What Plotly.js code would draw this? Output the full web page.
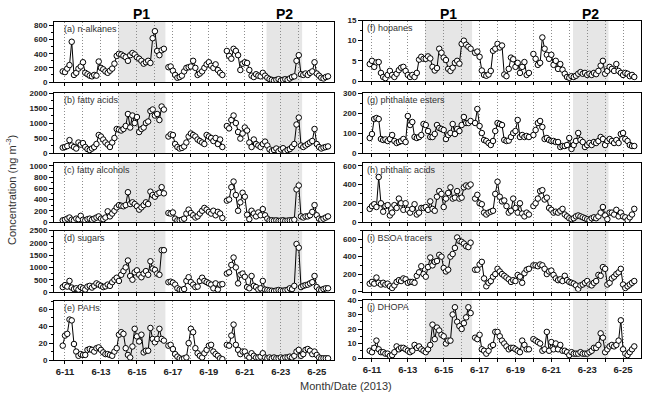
<!DOCTYPE html>
<html><head><meta charset="utf-8">
<script src="https://cdn.plot.ly/plotly-3.0.1.min.js"></script>
<style>html,body{margin:0;padding:0;background:#fff}#chart{width:650px;height:397px}</style>
</head><body><div id="chart"></div>
<script>
// sampling times (3-h samples; null entries mark the two sampling breaks)
const sampleTimes = [
'2013-06-10 21:00',
'2013-06-11 00:00','2013-06-11 03:00','2013-06-11 06:00','2013-06-11 09:00','2013-06-11 12:00','2013-06-11 15:00','2013-06-11 18:00','2013-06-11 21:00',
'2013-06-12 00:00','2013-06-12 03:00','2013-06-12 06:00','2013-06-12 09:00','2013-06-12 12:00','2013-06-12 15:00','2013-06-12 18:00','2013-06-12 21:00',
'2013-06-13 00:00','2013-06-13 03:00','2013-06-13 06:00','2013-06-13 09:00','2013-06-13 12:00','2013-06-13 15:00','2013-06-13 18:00','2013-06-13 21:00',
'2013-06-14 00:00','2013-06-14 03:00','2013-06-14 06:00','2013-06-14 09:00','2013-06-14 12:00','2013-06-14 15:00','2013-06-14 18:00','2013-06-14 21:00',
'2013-06-15 00:00','2013-06-15 03:00','2013-06-15 06:00','2013-06-15 09:00','2013-06-15 12:00','2013-06-15 15:00','2013-06-15 18:00','2013-06-15 21:00',
'2013-06-16 00:00','2013-06-16 03:00','2013-06-16 06:00','2013-06-16 09:00','2013-06-16 12:00',
'2013-06-16 15:00',
'2013-06-16 18:00','2013-06-16 21:00',
'2013-06-17 00:00','2013-06-17 03:00','2013-06-17 06:00','2013-06-17 09:00','2013-06-17 12:00','2013-06-17 15:00','2013-06-17 18:00','2013-06-17 21:00',
'2013-06-18 00:00','2013-06-18 03:00','2013-06-18 06:00','2013-06-18 09:00','2013-06-18 12:00','2013-06-18 15:00','2013-06-18 18:00','2013-06-18 21:00',
'2013-06-19 00:00','2013-06-19 03:00','2013-06-19 06:00','2013-06-19 09:00','2013-06-19 12:00','2013-06-19 15:00','2013-06-19 18:00',
'2013-06-19 21:00',
'2013-06-20 00:00','2013-06-20 03:00','2013-06-20 06:00','2013-06-20 09:00','2013-06-20 12:00','2013-06-20 15:00','2013-06-20 18:00','2013-06-20 21:00',
'2013-06-21 00:00','2013-06-21 03:00','2013-06-21 06:00','2013-06-21 09:00','2013-06-21 12:00','2013-06-21 15:00','2013-06-21 18:00','2013-06-21 21:00',
'2013-06-22 00:00','2013-06-22 03:00','2013-06-22 06:00','2013-06-22 09:00','2013-06-22 12:00','2013-06-22 15:00','2013-06-22 18:00','2013-06-22 21:00',
'2013-06-23 00:00','2013-06-23 03:00','2013-06-23 06:00','2013-06-23 09:00','2013-06-23 12:00','2013-06-23 15:00','2013-06-23 18:00','2013-06-23 21:00',
'2013-06-24 00:00','2013-06-24 03:00','2013-06-24 06:00','2013-06-24 09:00','2013-06-24 12:00','2013-06-24 15:00','2013-06-24 18:00','2013-06-24 21:00',
'2013-06-25 00:00','2013-06-25 03:00','2013-06-25 06:00','2013-06-25 09:00','2013-06-25 12:00','2013-06-25 15:00'
];

const nAlkanes = [150,140,190,240,570,100,130,190,220,280,130,110,90,80,100,90,290,200,180,150,130,160,190,260,370,400,390,370,350,300,380,410,390,350,330,300,260,280,300,270,620,720,440,380,450,470,
 null,
 210,220,160,100,60,70,90,150,200,210,220,300,200,100,120,150,200,250,280,230,200,250,170,130,100,
 null,
 440,370,330,470,440,380,170,260,280,270,170,90,70,110,90,80,130,90,60,40,30,20,30,40,20,30,40,30,50,70,80,300,380,110,100,120,100,130,150,280,120,90,60,50,70,80];

const fattyAcids = [180,200,230,430,250,200,150,350,280,330,200,130,100,150,200,300,600,550,450,350,280,200,350,500,800,780,750,800,900,1300,850,1250,1000,1200,700,800,850,1000,1050,1400,1450,1250,1300,1100,1550,1450,
 null,
 550,620,600,300,200,150,170,220,350,550,650,600,550,450,400,350,300,600,550,500,400,500,300,450,200,
 null,
 900,820,1100,1250,1000,700,480,650,850,750,350,200,450,300,250,200,300,380,250,120,60,100,150,60,120,160,50,100,130,200,300,950,1180,250,200,250,300,350,400,800,300,200,150,180,200,220];

const fattyAlcohols = [30,40,60,80,40,30,60,50,110,40,30,50,60,40,60,80,100,60,50,80,190,100,150,200,260,300,290,280,300,530,320,350,320,280,220,260,300,350,320,540,480,450,500,520,620,510,
 null,
 160,150,170,60,30,30,40,60,150,220,160,120,80,100,150,200,250,220,180,150,200,120,180,150,70,
 null,
 380,400,620,720,480,200,350,520,450,130,50,200,150,100,170,120,230,120,60,30,30,25,30,20,25,30,20,25,30,30,40,580,650,100,80,100,100,120,180,300,120,60,40,60,80,100];

const sugars = [200,280,220,450,180,120,150,100,200,150,100,220,250,180,250,350,300,250,200,230,300,250,400,500,580,450,700,850,1000,1280,650,500,800,880,700,600,750,850,700,1250,950,900,750,700,1700,1700,
 null,
 400,420,380,300,150,100,80,120,450,600,400,300,200,220,450,580,450,400,350,300,150,350,100,300,320,
 null,
 750,800,1100,1400,1000,350,700,750,620,200,150,650,250,200,100,150,450,100,80,60,50,40,60,80,60,50,70,90,150,120,250,1950,1800,200,250,280,300,350,400,650,200,100,80,120,150,150];

const pahs = [17,29,31,48,47,19,10,5,7,6,6,12,13,12,10,14,15,12,9,7,7,6,5,10,14,30,33,31,14,6,3,16,37,28,22,30,9,11,11,38,25,21,25,37,25,23,
 null,
 17,18,13,7,4,2,1,2,3,20,37,33,14,8,5,3,8,12,17,18,10,7,5,2,1,
 null,
 18,17,29,42,18,12,7,10,10,5,3,8,5,3,3,4,8,3,2,3,2,3,2,2,3,2,3,3,4,3,5,10,12,5,7,12,13,11,7,10,6,3,2,2,2,2];

const hopanes = [4.2,5,3.5,4.6,4.7,2,1,0.7,1.5,2.5,1.5,1,1.8,2.7,3.3,3.5,2.5,1.5,1,1.5,1,2,5.3,6,5.5,5.5,6.1,5.6,3.5,2.6,3.2,8,7,5.8,5.2,3,2.5,3.3,4.5,5,4.3,9.2,10,9,8.5,8,
 null,
 7,7.3,6,2.6,1.5,1.3,1.6,2.5,7.5,8,9.2,8.3,8.8,1.6,1.2,3,5.8,5.4,3.5,4.5,2,3.5,4.7,1.5,2,
 null,
 6.7,5.5,4,4.5,10.8,8,6.5,5.5,6.5,4,5,3,4.2,2.8,1.8,1,0.8,1.2,1,1.3,1.8,2.2,1.8,2,1.5,1.8,1.5,2,1.7,2.5,3.8,5,1.8,2.5,3.5,3,2.5,4.2,2.5,2,1.5,2,1.8,1.2,1.5,1];

const phthalateEsters = [75,95,170,175,170,70,65,68,60,70,90,60,50,55,60,70,55,185,140,155,80,75,80,90,145,140,110,80,80,95,140,125,120,115,70,90,100,145,95,120,110,140,180,150,150,160,
 null,
 150,220,135,100,65,60,50,40,60,110,150,145,140,65,60,62,80,100,110,165,80,90,80,85,80,
 null,
 90,115,150,160,130,70,75,65,60,60,55,55,30,35,35,40,75,20,40,60,100,65,55,30,40,50,40,55,50,60,80,70,40,60,70,60,50,65,50,95,100,70,60,40,35,35];

const phthalicAcids = [140,170,190,160,480,200,110,170,180,70,100,180,150,250,200,130,200,130,100,140,190,80,100,150,150,160,130,220,140,120,270,330,300,160,250,310,370,250,260,330,250,260,370,390,380,400,
 null,
 250,290,200,190,100,80,100,110,120,300,430,270,220,230,170,100,120,250,150,100,200,90,60,100,80,
 null,
 170,200,250,330,340,240,260,150,130,100,110,100,120,140,80,60,40,30,40,60,70,60,50,40,30,20,40,50,40,60,100,160,70,30,100,100,80,130,60,100,60,50,20,50,80,140];

const bsoaTracers = [90,110,90,160,100,80,100,80,90,60,40,70,110,130,120,150,140,100,110,110,100,180,220,290,200,170,280,390,300,340,350,420,400,270,230,250,400,430,500,620,580,570,550,520,510,560,
 null,
 250,250,310,340,150,60,100,120,170,200,260,230,200,180,160,140,110,130,120,190,170,100,210,250,260,
 null,
 300,300,290,310,300,260,200,230,240,190,150,130,140,120,180,130,110,100,90,70,30,70,80,100,120,80,70,100,120,190,180,280,260,80,100,150,170,200,220,260,80,40,60,80,100,120];

const dhopa = [5,4,7,12,6,4,4,3,3,1.5,2,4,8,6,7,7,6,5,4,5,9,7,8,6,5,4,6,9,23,13,21,19,16,15,10,12,12,30,35,25,22,20,24,28,35,31,
 null,
 14,13,16,6,5,3,5,8,9,18,18,15,12,10,8,6,7,7,6,5,4,12,9,6,6,
 null,
 13,12,11,10,5,6,18,5,11,6,10,6,9,5,5,4,2,4,3,3,3,4,3,3,3,4,5,7,7,9,17,14,4,6,8,9,8,9,12,26,6,3,2,4,6,8];

const panelNames = ['(a) n-alkanes','(b) fatty acids','(c) fatty alcohols','(d) sugars','(e) PAHs',
                    '(f) hopanes','(g) phthalate esters','(h) phthalic acids','(i) BSOA tracers','(j) DHOPA'];
const panelSeries = [nAlkanes, fattyAcids, fattyAlcohols, sugars, pahs,
                     hopanes, phthalateEsters, phthalicAcids, bsoaTracers, dhopa];
const yMax  = [850, 2000, 1050, 2500, 70, 15, 300, 630, 700, 40];
const yStep = [200, 500, 200, 500, 20, 5, 100, 200, 200, 10];

// labelled (odd) days and unlabelled (even) days
const labelDays = ['2013-06-11','2013-06-13','2013-06-15','2013-06-17','2013-06-19','2013-06-21','2013-06-23','2013-06-25'];
const labelText = ['6-11','6-13','6-15','6-17','6-19','6-21','6-23','6-25'];
const otherDays = ['2013-06-12','2013-06-14','2013-06-16','2013-06-18','2013-06-20','2013-06-22','2013-06-24'];
const periods = [{name:'P1', start:'2013-06-13 23:00', end:'2013-06-16 14:00', mid:'2013-06-15 06:30'},
                 {name:'P2', start:'2013-06-22 05:00', end:'2013-06-24 04:30', mid:'2013-06-23 04:45'}];

// layout geometry (pixels)
const W = 650, H = 397;
const colX = [[54, 334], [363, 641]];
const colRange = [['2013-06-10 09:20','2013-06-25 23:00'], ['2013-06-10 12:00','2013-06-26 00:00']];
const rowY = [[[22,82],[93,153],[163,222],[230.5,292],[301,360]],
              [[20.5,81],[93,153],[163,222],[230.5,291.5],[300,358]]];
const labelDx = [8, 2];

const FONT = 'Arial, "Liberation Sans", sans-serif';
const GRID = {color:'#8c8c8c', dash:'1px,2px'};
const traces = [], shapes = [], annotations = [];
const layout = {width:W, height:H, margin:{l:0,r:0,t:0,b:0}, paper_bgcolor:'#fff', plot_bgcolor:'rgba(0,0,0,0)',
  showlegend:false, font:{family:FONT, color:'#222', size:9}};

for (let i = 0; i < 10; i++) {
  const col = i < 5 ? 0 : 1, row = i % 5, k = i + 1;
  const xa = 'xaxis' + (k === 1 ? '' : k), ya = 'yaxis' + (k === 1 ? '' : k);
  const xr = 'x' + (k === 1 ? '' : k), yr = 'y' + (k === 1 ? '' : k);
  const [px0, px1] = colX[col];
  const [pyT, pyB] = rowY[col][row];
  const bottom = row === 4;
  layout[xa] = {type:'date', domain:[px0/W, px1/W], range:colRange[col], anchor:yr,
    tickmode:'array', tickvals:labelDays, ticktext:labelText, showticklabels:bottom,
    ticks:'outside', ticklen:3, tickcolor:'#000', tickwidth:1,
    tickfont:{family:FONT, size:9.5, color:'#222', weight:'bold'},
    showgrid:true, gridcolor:GRID.color, griddash:GRID.dash, gridwidth:1,
    minor:{tickmode:'array', tickvals:otherDays, ticks:'outside', ticklen:3, tickcolor:'#000',
      showgrid:true, gridcolor:GRID.color, griddash:GRID.dash, gridwidth:1},
    showline:true, linecolor:'#000', linewidth:1, mirror:true, zeroline:false};
  layout[ya] = {domain:[1 - pyB/H, 1 - pyT/H], range:[0, yMax[i]], anchor:xr,
    tickmode:'linear', tick0:0, dtick:yStep[i], ticks:'outside', ticklen:4, tickcolor:'#000',
    tickfont:{family:FONT, size:8, color:'#222', weight:'bold'},
    minor:{dtick:yStep[i]/2, ticks:'outside', ticklen:2, tickcolor:'#000', showgrid:false},
    showgrid:false, showline:true, linecolor:'#000', linewidth:1, mirror:true, zeroline:false};
  traces.push({x:sampleTimes, y:panelSeries[i], xaxis:xr, yaxis:yr, type:'scatter', mode:'lines+markers',
    connectgaps:false, line:{color:'#000', width:1},
    marker:{symbol:'circle', size:5.5, color:'#fff', line:{color:'#000', width:1}}, hoverinfo:'skip'});
  periods.forEach(p => shapes.push({type:'rect', xref:xr, yref:yr + ' domain', x0:p.start, x1:p.end, y0:0, y1:1,
    fillcolor:'#e6e6e6', line:{width:0}, layer:'below'}));
  annotations.push({text:panelNames[i], xref:'paper', yref:'paper', x:(px0 + labelDx[col])/W, y:1 - (pyT + 7)/H,
    xanchor:'left', yanchor:'middle', showarrow:false, font:{family:FONT, size:9, color:'#333'}});
  if (row === 0) {
    periods.forEach(p => annotations.push({text:p.name, xref:xr, yref:'paper', x:p.mid, y:1 - 14/H,
      xanchor:'center', yanchor:'middle', showarrow:false, font:{family:FONT, size:14, color:'#000', weight:'bold'}}));
  }
}
annotations.push({text:'Concentration (ng m<sup>-3</sup>)', xref:'paper', yref:'paper', x:11/W, y:1 - 190/H,
  textangle:-90, xanchor:'center', yanchor:'middle', showarrow:false, font:{family:FONT, size:11, color:'#333'}});
annotations.push({text:'Month/Date (2013)', xref:'paper', yref:'paper', x:346/W, y:1 - 386/H,
  xanchor:'center', yanchor:'middle', showarrow:false, font:{family:FONT, size:11, color:'#333'}});
layout.shapes = shapes;
layout.annotations = annotations;

Plotly.newPlot('chart', traces, layout, {staticPlot:true, displayModeBar:false});
</script>
</body></html>
